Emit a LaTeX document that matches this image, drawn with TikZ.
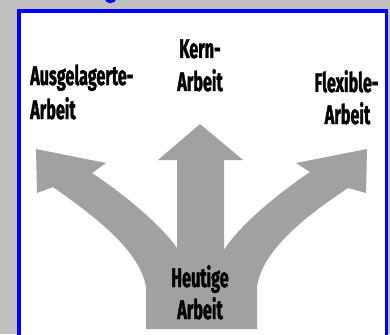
\documentclass[tikz,border=0pt]{standalone}
\usepackage{fontspec}
\newfontfamily\lab{Fira Sans}[UprightFont=* Bold, FakeStretch=0.6, FakeBold=1.3]
\definecolor{pagegray}{RGB}{192,192,192}
\definecolor{framblue}{RGB}{0,0,255}
\definecolor{arrowgray}{RGB}{161,161,161}
\begin{document}
\begin{tikzpicture}[x=1pt,y=-1pt,
  lbl/.style={inner sep=0pt, font=\lab\fontsize{27}{33}\selectfont, text=black}]
\useasboundingbox (0,0) rectangle (390,334);
\clip (0,0) rectangle (390,334);
% page background and framed panel
\fill[pagegray] (0,0) rectangle (390,334);
\draw[framblue, line width=3.4pt, fill=white] (19,11) rectangle (386.5,345);
% descender of the title text above the panel
\fill[framblue] (110.5,-0.5) ellipse [x radius=5.5pt, y radius=3.6pt];

% three-way branching arrow
\fill[arrowgray]
  (146,329) -- (146,287)
  .. controls (140,252) and (100,220) .. (53,187)
  -- (37,193) -- (36,149) -- (106,163) -- (92,173)
  .. controls (125,195) and (162,226) .. (177,248)
  -- (177,160) -- (158,160) -- (200,124) -- (243,160) -- (224,160)
  -- (224,250)
  .. controls (239,226) and (276,195) .. (310,172)
  -- (296,163) -- (367,149) -- (366,193) -- (348,188)
  .. controls (300,220) and (262,252) .. (257,287)
  -- (257,329) -- cycle;

% labels
\node[lbl, anchor=base west] (aus1) at (30,85) {Ausgelagerte-};
\node[lbl, anchor=base west] (aus2) at (30,119) {Arbeit};
\node[lbl, anchor=base] (kern1) at (200,58) {Kern-};
\node[lbl, anchor=base] (kern2) at (200,91) {Arbeit};
\node[lbl, anchor=base] (flex1) at (346.5,92) {Flexible-};
\node[lbl, anchor=base] (flex2) at (347.5,124) {Arbeit};
\node[lbl, anchor=base] (heut1) at (200,287) {Heutige};
\node[lbl, anchor=base] (heut2) at (200,319) {Arbeit};
\end{tikzpicture}
\end{document}
